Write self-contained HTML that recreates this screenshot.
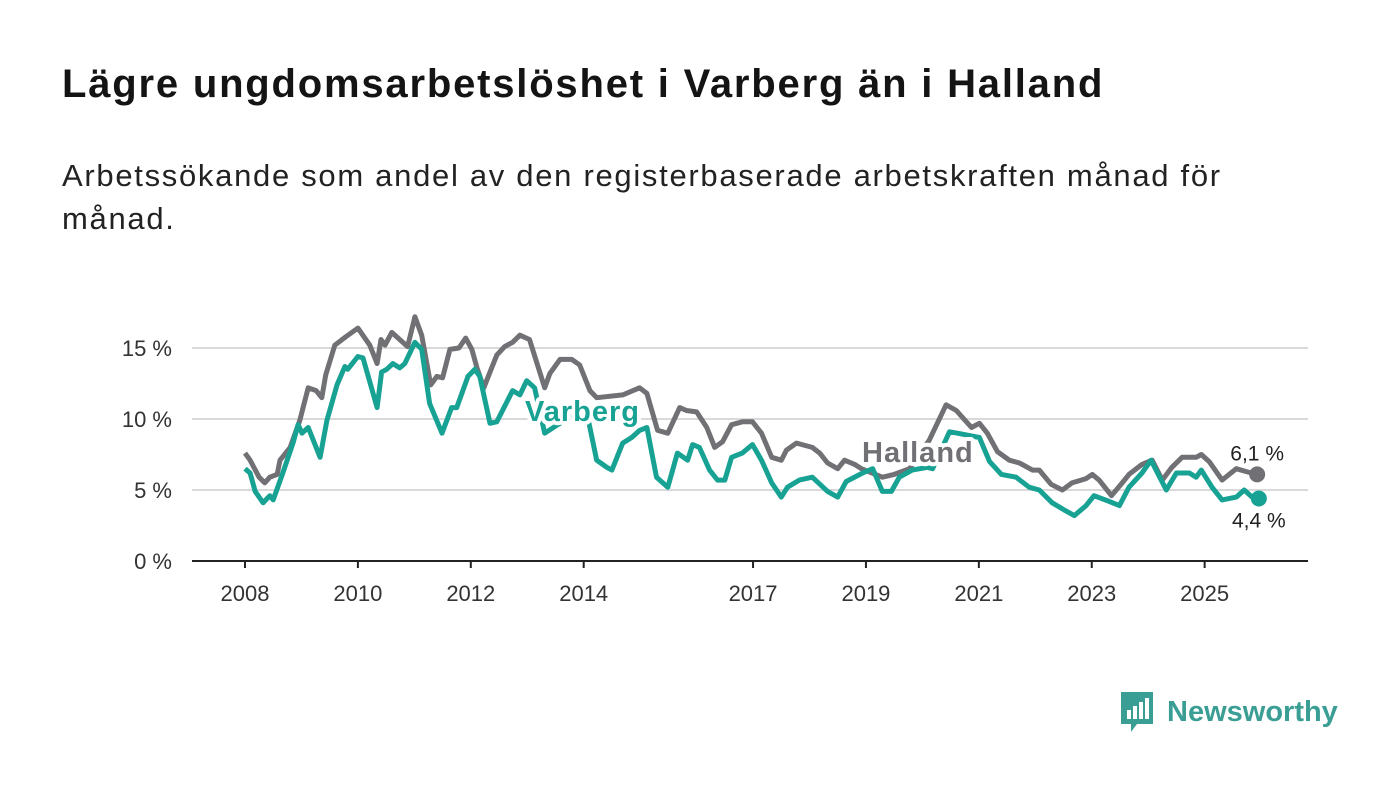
<!DOCTYPE html>
<html><head><meta charset="utf-8"><style>
body{margin:0;width:1400px;height:794px;background:#fff;font-family:"Liberation Sans",sans-serif;overflow:hidden;position:relative}
h1{position:absolute;left:62px;top:62px;margin:0;font-size:40px;font-weight:bold;color:#141414;letter-spacing:1.8px}
p{position:absolute;left:62px;top:154px;margin:0;font-size:31px;line-height:43px;color:#222;width:1330px;letter-spacing:1.7px}
</style></head><body>
<h1>Lägre ungdomsarbetslöshet i Varberg än i Halland</h1>
<p>Arbetssökande som andel av den registerbaserade arbetskraften månad för<br>månad.</p>
<svg id="chart" width="1400" height="794" style="position:absolute;left:0;top:0"></svg>
<div style="position:absolute;left:1119px;top:690px;height:44px;display:flex;align-items:center">
<svg width="36" height="44"><path d="M2 2h32v32H18l-6 8v-8H2z" fill="#3a9e94"/><rect x="8" y="20" width="4" height="9" fill="#fff"/><rect x="14" y="16" width="4" height="13" fill="#fff"/><rect x="20" y="12" width="4" height="17" fill="#fff"/><rect x="26" y="8" width="4" height="21" fill="#fff"/></svg>
<span style="margin-left:12px;font-size:29px;font-weight:bold;color:#3a9e94">Newsworthy</span></div>
<script>
const hYears=[2008.00,2008.09,2008.25,2008.35,2008.44,2008.57,2008.62,2008.80,2008.97,2009.12,2009.26,2009.36,2009.43,2009.59,2009.79,2010.00,2010.21,2010.34,2010.41,2010.48,2010.60,2010.74,2010.88,2011.01,2011.13,2011.29,2011.40,2011.50,2011.63,2011.79,2011.91,2012.02,2012.11,2012.23,2012.34,2012.46,2012.60,2012.74,2012.87,2013.04,2013.31,2013.40,2013.58,2013.79,2013.93,2014.11,2014.23,2014.69,2014.99,2015.12,2015.31,2015.49,2015.70,2015.82,2016.00,2016.18,2016.32,2016.46,2016.62,2016.81,2016.99,2017.15,2017.33,2017.50,2017.59,2017.77,2018.05,2018.18,2018.32,2018.50,2018.62,2018.80,2018.92,2019.29,2019.50,2019.77,2020.12,2020.42,2020.60,2020.87,2021.01,2021.15,2021.33,2021.54,2021.72,2021.95,2022.07,2022.28,2022.48,2022.65,2022.90,2023.01,2023.13,2023.35,2023.54,2023.66,2023.89,2024.07,2024.25,2024.42,2024.60,2024.85,2024.94,2025.08,2025.31,2025.56,2025.73,2025.93];
const hallandValues=[7.6,7.1,5.9,5.5,5.9,6.1,7.1,8.0,9.9,12.2,12.0,11.5,13.1,15.2,15.8,16.4,15.2,13.9,15.6,15.2,16.1,15.6,15.1,17.2,15.9,12.4,13.0,12.9,14.9,15.0,15.7,14.9,13.6,12.2,13.3,14.5,15.1,15.4,15.9,15.6,12.2,13.2,14.2,14.2,13.8,12.0,11.5,11.7,12.2,11.8,9.2,9.0,10.8,10.6,10.5,9.4,8.0,8.4,9.6,9.8,9.8,9.0,7.3,7.1,7.8,8.3,8.0,7.6,6.9,6.5,7.1,6.8,6.5,5.9,6.1,6.5,8.5,11.0,10.6,9.4,9.7,9.0,7.7,7.1,6.9,6.4,6.4,5.4,5.0,5.5,5.8,6.1,5.7,4.6,5.5,6.1,6.8,7.1,5.7,6.6,7.3,7.3,7.5,7.0,5.7,6.5,6.3,6.1];
const vYears=[2008.00,2008.09,2008.18,2008.32,2008.44,2008.50,2008.67,2008.85,2008.94,2009.01,2009.12,2009.33,2009.45,2009.63,2009.77,2009.82,2010.00,2010.09,2010.34,2010.42,2010.51,2010.62,2010.74,2010.83,2011.01,2011.13,2011.27,2011.49,2011.66,2011.75,2011.95,2012.07,2012.16,2012.34,2012.46,2012.74,2012.87,2012.99,2013.13,2013.31,2013.54,2013.84,2014.02,2014.11,2014.23,2014.41,2014.50,2014.69,2014.85,2014.99,2015.12,2015.29,2015.49,2015.66,2015.84,2015.93,2016.05,2016.23,2016.37,2016.50,2016.62,2016.81,2016.99,2017.15,2017.33,2017.50,2017.61,2017.82,2018.05,2018.32,2018.50,2018.65,2018.94,2019.12,2019.29,2019.45,2019.59,2019.82,2020.09,2020.18,2020.48,2020.62,2021.01,2021.19,2021.40,2021.66,2021.89,2022.07,2022.30,2022.51,2022.69,2022.90,2023.04,2023.31,2023.49,2023.66,2023.89,2024.05,2024.32,2024.50,2024.73,2024.85,2024.94,2025.13,2025.31,2025.56,2025.70,2025.84,2025.96];
const varbergValues=[6.5,6.2,4.9,4.1,4.6,4.3,6.2,8.3,9.6,9.0,9.4,7.3,9.9,12.4,13.7,13.5,14.4,14.3,10.8,13.3,13.5,13.9,13.6,13.9,15.4,14.9,11.1,9.0,10.8,10.8,13.0,13.5,13.0,9.7,9.8,12.0,11.7,12.7,12.2,9.0,9.6,10.3,11.0,9.4,7.1,6.6,6.4,8.3,8.7,9.2,9.4,5.9,5.2,7.6,7.1,8.2,8.0,6.4,5.7,5.7,7.3,7.6,8.2,7.1,5.5,4.5,5.2,5.7,5.9,4.9,4.5,5.6,6.2,6.5,4.9,4.9,5.9,6.4,6.6,6.5,9.1,9.0,8.7,7.0,6.1,5.9,5.2,5.0,4.1,3.6,3.2,3.9,4.6,4.2,3.9,5.2,6.2,7.1,5.0,6.2,6.2,5.9,6.4,5.2,4.3,4.5,5.0,4.5,4.4];
const yTicks=[0,5,10,15];
const xTicks=[2008,2010,2012,2014,2017,2019,2021,2023,2025];
const endLabels=["6,1 %","4,4 %"];

const NS="http://www.w3.org/2000/svg";
const svg=document.getElementById('chart');
const X=y=>245+(y-2008)*56.45;
const Y=v=>561-v*14.2;
function mk(t,a){const e=document.createElementNS(NS,t);for(const k in a)e.setAttribute(k,a[k]);svg.appendChild(e);return e;}
yTicks.forEach(t=>{
  if(t>0){const g=mk('line',{x1:192,x2:1308,y1:Y(t),y2:Y(t),stroke:'#d9d9d9','stroke-width':2});
  
  }
  const l=mk('text',{x:172,y:Y(t)+8,'text-anchor':'end','font-size':22,fill:'#333','font-family':'Liberation Sans, sans-serif'});
  l.textContent=t+' %';
  
  
});
const ax=mk('line',{x1:192,x2:1308,y1:561,y2:561,stroke:'#222','stroke-width':2});


xTicks.forEach(t=>{
  const tk=mk('line',{x1:X(t),x2:X(t),y1:561,y2:568,stroke:'#222','stroke-width':2});
  
  
  const l=mk('text',{x:X(t),y:601,'text-anchor':'middle','font-size':22,fill:'#333','font-family':'Liberation Sans, sans-serif'});
  l.textContent=t;
  
  
});
function line(xs,vs,col,name){
  const d=xs.map((x,i)=>(i?'L':'M')+X(x).toFixed(1)+' '+Y(vs[i]).toFixed(1)).join('');
  const p=mk('path',{d:d,fill:'none',stroke:col,'stroke-width':5,'stroke-linejoin':'round'});
  
  
}
line(hYears,hallandValues,'#707075','line-halland');
line(vYears,varbergValues,'#17a293','line-varberg');
function lbl(x,y,txt,col,name){
  const t=mk('text',{x:x,y:y,'font-size':29,'font-weight':'bold',fill:col,stroke:'#fff','stroke-width':8,'paint-order':'stroke','stroke-linejoin':'round','letter-spacing':1,'font-family':'Liberation Sans, sans-serif'});
  t.textContent=txt;
  
  
}
lbl(525,421,'Varberg','#17a293','label-varberg');
lbl(862,462,'Halland','#707075','label-halland');
const hl=hallandValues.length-1, vl=varbergValues.length-1;
const d1=mk('circle',{cx:X(hYears[hl]),cy:Y(hallandValues[hl]),r:8,fill:'#707075'});


const d2=mk('circle',{cx:X(vYears[vl]),cy:Y(varbergValues[vl]),r:8,fill:'#17a293'});


const e1=mk('text',{x:X(hYears[hl]),y:Y(hallandValues[hl])-14,'text-anchor':'middle','font-size':21,fill:'#222',stroke:'#fff','stroke-width':5,'paint-order':'stroke','font-family':'Liberation Sans, sans-serif'});
e1.textContent=endLabels[0];


const e2=mk('text',{x:X(vYears[vl]),y:Y(varbergValues[vl])+29,'text-anchor':'middle','font-size':21,fill:'#222',stroke:'#fff','stroke-width':5,'paint-order':'stroke','font-family':'Liberation Sans, sans-serif'});
e2.textContent=endLabels[1];


</script>
</body></html>
